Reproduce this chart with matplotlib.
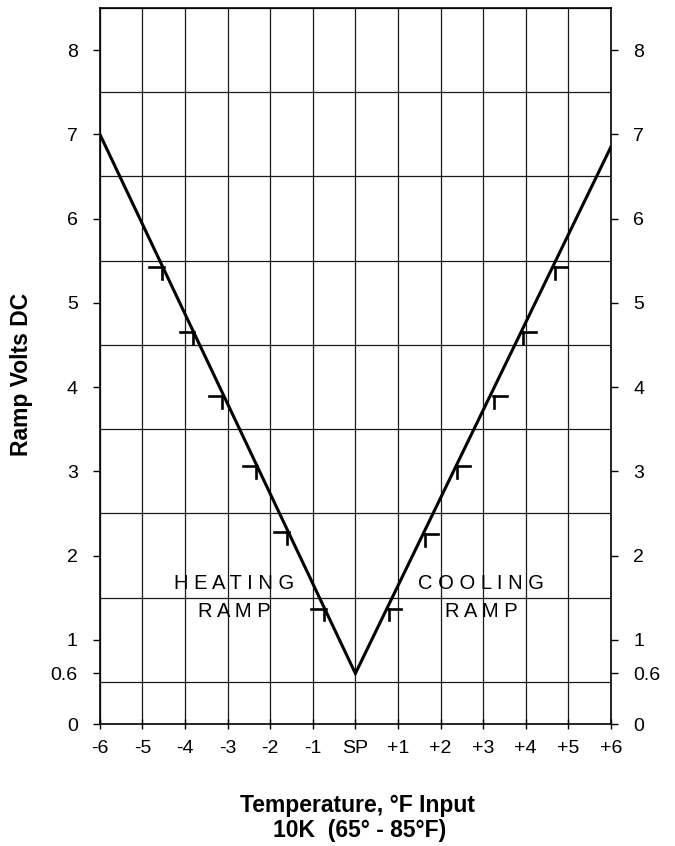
import numpy as np
import matplotlib
matplotlib.use("Agg")
import matplotlib.pyplot as plt
from matplotlib.ticker import MultipleLocator

plt.rcParams['font.family'] = ['Liberation Sans', 'DejaVu Sans']

# ramp line
ramp_x = [-6, 0, 6]
ramp_y = [7.0, 0.6, 6.85]

# small step marks
heat_mark_x = [-4.54, -3.82, -3.14, -2.34, -1.61, -0.74]
heat_mark_y = [5.42, 4.65, 3.89, 3.06, 2.28, 1.37]
cool_mark_x = [0.78, 1.63, 2.38, 3.25, 3.93, 4.68]
cool_mark_y = [1.37, 2.25, 3.06, 3.89, 4.65, 5.42]

x_ticks = [-6, -5, -4, -3, -2, -1, 0, 1, 2, 3, 4, 5, 6]
x_labels = ['-6', '-5', '-4', '-3', '-2', '-1', 'SP', '+1', '+2', '+3', '+4', '+5', '+6']
y_ticks = [0, 0.6, 1, 2, 3, 4, 5, 6, 7, 8]
y_labels = ['0', '0.6', '1', '2', '3', '4', '5', '6', '7', '8']


def ramp_chart():
    fig = plt.figure(figsize=(6.75, 8.46), dpi=100)
    ax = fig.add_axes([0.148, 0.1442, 0.757, 1 - 8 / 846 - 0.1442])

    ax.set_xlim(-6, 6)
    ax.set_ylim(0, 8.5)

    # grid: every degree, every half volt
    ax.yaxis.set_minor_locator(MultipleLocator(0.5))
    ax.grid(True, which='major', axis='x', color='#1a1a1a', lw=0.9)
    ax.grid(True, which='minor', axis='y', color='#1a1a1a', lw=0.9)
    ax.set_axisbelow(True)

    ax.plot(ramp_x, ramp_y, color='black', lw=2.2, solid_joinstyle='miter', zorder=3)

    for x, y in zip(heat_mark_x, heat_mark_y):
        ax.plot([x - 0.3, x + 0.04], [y, y], color='black', lw=1.9, zorder=3)
        ax.plot([x, x], [y, y - 0.14], color='black', lw=1.9, zorder=3)
    for x, y in zip(cool_mark_x, cool_mark_y):
        ax.plot([x - 0.02, x + 0.3], [y, y], color='black', lw=1.9, zorder=3)
        ax.plot([x, x], [y, y - 0.14], color='black', lw=1.9, zorder=3)

    ax.set_xticks(x_ticks)
    ax.set_xticklabels(x_labels, fontsize=14)
    ax.set_yticks(y_ticks)
    ax.set_yticklabels(y_labels, fontsize=14)
    ax.tick_params(axis='x', direction='inout', length=7, width=1, pad=8)
    ax.tick_params(axis='y', which='major', direction='out', length=5, width=1, pad=11,
                   right=True, labelright=True)
    ax.tick_params(axis='y', which='minor', length=0)
    for s in ax.spines.values():
        s.set_linewidth(1.2)

    ax.text(-2.84, 1.6, 'H E A T I N G', fontsize=14.5, ha='center', va='baseline')
    ax.text(-2.84, 1.27, 'R A M P', fontsize=14.5, ha='center', va='baseline')
    ax.text(2.96, 1.6, 'C O O L I N G', fontsize=14.5, ha='center', va='baseline')
    ax.text(2.96, 1.27, 'R A M P', fontsize=14.5, ha='center', va='baseline')

    fig.text(22 / 675, 0.557, 'Ramp Volts DC', rotation=90, fontsize=16.5,
             fontweight='bold', ha='center', va='center')
    fig.text(0.53, 1 - 812 / 846, 'Temperature, °F Input', fontsize=16.5,
             fontweight='bold', ha='center', va='baseline')
    fig.text(0.533, 1 - 837 / 846, '10K  (65° - 85°F)', fontsize=16.5,
             fontweight='bold', ha='center', va='baseline')

    fig.savefig('out.png', dpi=100)


if __name__ == "__main__":
    ramp_chart()
